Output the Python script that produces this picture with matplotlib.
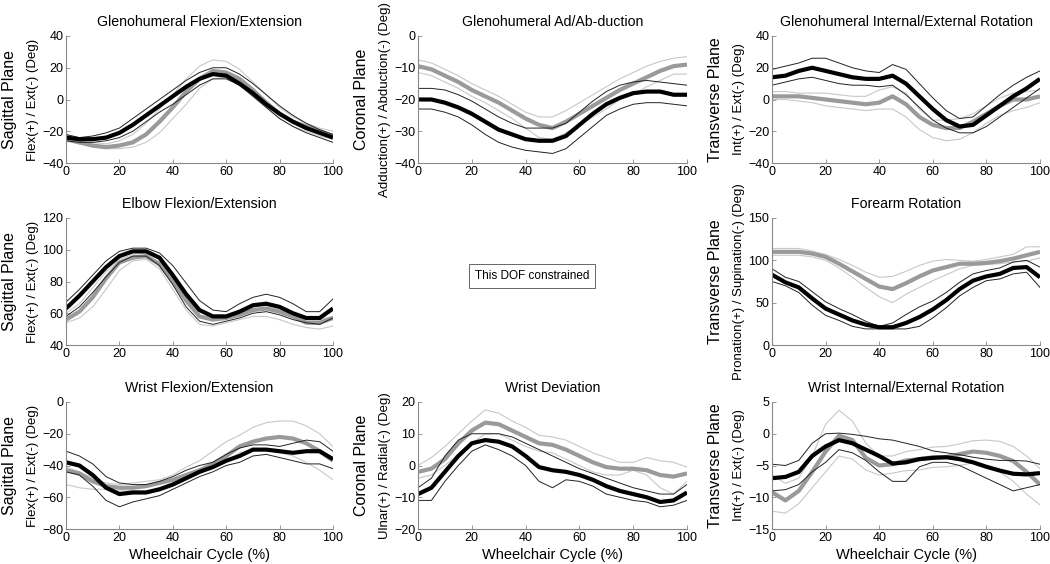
import matplotlib
matplotlib.use("Agg")
import matplotlib.pyplot as plt

plt.rcParams['font.family'] = ['Liberation Sans', 'DejaVu Sans']

# wheelchair cycle sampled every 5 %
cycle = list(range(0, 101, 5))

# Glenohumeral flexion / extension
ghfe_black = [-24, -25, -25, -24, -21, -16, -10, -4, 2, 8, 13, 16, 15, 10, 4, -3, -9, -14, -18, -21, -24]
ghfe_black_hi = [-22, -24, -23, -21, -18, -12, -6, 0, 6, 12, 17, 20, 20, 16, 10, 3, -4, -10, -15, -19, -22]
ghfe_black_lo = [-26, -27, -27, -26, -24, -20, -14, -8, -3, 3, 9, 13, 13, 9, 2, -5, -12, -17, -21, -24, -27]
ghfe_grey = [-25, -27, -29, -30, -29, -27, -22, -14, -5, 5, 13, 18, 17, 13, 6, -2, -9, -14, -17, -20, -23]
ghfe_grey_hi = [-22, -26, -27, -28, -26, -22, -15, -6, 3, 13, 21, 25, 24, 19, 11, 3, -5, -11, -15, -18, -20]
ghfe_grey_lo = [-26, -28, -30, -31, -31, -30, -27, -21, -12, -3, 7, 13, 14, 10, 3, -5, -12, -17, -20, -23, -25]

# Glenohumeral ad / abduction
ghaa_black = [-20, -20, -21, -22.5, -24.5, -27, -29.5, -31, -32.5, -33, -33, -31.5, -28, -24.5, -21.5, -19.5, -18, -17.5, -17.5, -18.5, -18.5]
ghaa_black_hi = [-16.5, -16.5, -17, -18.5, -20.5, -23, -25.5, -27.5, -29, -29, -29, -27.5, -24, -20.5, -17.5, -15.5, -14.5, -14, -14.5, -15, -15.5]
ghaa_black_lo = [-23, -23, -24, -25.5, -28, -31, -33.5, -35, -36, -36.5, -37, -35.5, -32, -28.5, -25, -23, -21.5, -21, -21, -21.5, -22]
ghaa_grey = [-9.5, -10.5, -12.5, -14.5, -17, -19, -21, -23.5, -26, -28, -29, -27, -24.5, -22, -19.5, -17, -15, -13, -11, -9.5, -9]
ghaa_grey_hi = [-7.5, -8.5, -10.5, -12.5, -15, -17, -19, -21.5, -24, -25.5, -25.5, -23.5, -21, -18.5, -16, -13.5, -11.5, -9.5, -8, -7, -6.5]
ghaa_grey_lo = [-11.5, -12.5, -14.5, -16.5, -19, -21, -23.5, -26, -29, -32, -32.5, -30.5, -28, -25.5, -23, -20, -18.5, -16, -14, -12, -12]

# Glenohumeral internal / external rotation
ghie_black = [14, 15, 18, 20, 18, 16, 14, 13, 13, 15, 10, 2, -6, -13, -17, -16, -10, -4, 2, 7, 13]
ghie_black_hi = [19, 21, 23, 26, 26, 23, 20, 18, 17, 22, 19, 10, 1, -7, -12, -11, -4, 3, 9, 14, 18]
ghie_black_lo = [9, 11, 13, 14, 12, 10, 9, 9, 8, 9, 3, -5, -13, -18, -21, -21, -17, -11, -5, 1, 7]
ghie_grey = [2, 2, 2, 1, 0, -1, -2, -3, -2, 2, -3, -11, -16, -18, -18, -14, -9, -4, 0, 0, 2]
ghie_grey_hi = [5, 5, 4, 4, 4, 3, 2, 2, 6, 8, 4, -6, -13, -13, -12, -9, -4, 1, 4, 5, 6]
ghie_grey_lo = [0, 0, -1, -2, -4, -5, -6, -7, -6, -6, -11, -19, -24, -26, -25, -21, -15, -10, -7, -5, -2]

# Elbow flexion / extension
elb_black = [63, 71, 80, 89, 96, 99, 99, 95, 84, 72, 62, 58, 58, 61, 65, 66, 64, 60, 57, 57, 63]
elb_black_hi = [67, 75, 84, 93, 99, 101, 101, 98, 90, 79, 68, 62, 61, 66, 70, 72, 70, 66, 61, 61, 69]
elb_black_lo = [58, 64, 73, 83, 92, 96, 96, 90, 78, 64, 55, 53, 55, 57, 60, 61, 59, 56, 54, 53, 57]
elb_grey = [56, 61, 70, 82, 92, 95, 96, 91, 80, 68, 58, 56, 57, 59, 62, 63, 61, 58, 54, 54, 57]
elb_grey_hi = [60, 66, 76, 86, 94, 97, 98, 95, 85, 73, 62, 59, 59, 62, 66, 67, 64, 60, 56, 56, 58]
elb_grey_lo = [54, 57, 64, 75, 87, 93, 94, 88, 75, 62, 53, 52, 54, 56, 58, 58, 56, 53, 51, 50, 52]

# Forearm rotation
fa_black = [83, 74, 68, 55, 43, 36, 29, 24, 21, 21, 26, 33, 42, 53, 66, 76, 81, 84, 91, 92, 80]
fa_black_hi = [90, 80, 75, 63, 51, 43, 36, 28, 22, 26, 36, 45, 52, 62, 74, 84, 88, 91, 98, 100, 92]
fa_black_lo = [75, 70, 62, 47, 35, 29, 22, 19, 19, 19, 19, 22, 32, 44, 58, 68, 76, 78, 84, 86, 68]
fa_grey = [110, 110, 110, 108, 104, 96, 87, 78, 69, 66, 73, 81, 88, 92, 96, 96, 97, 99, 102, 106, 110]
fa_grey_hi = [114, 114, 114, 111, 107, 101, 94, 86, 80, 81, 87, 94, 99, 101, 100, 99, 101, 104, 107, 116, 116]
fa_grey_lo = [106, 106, 106, 104, 100, 91, 80, 68, 57, 50, 60, 68, 76, 83, 90, 94, 95, 96, 98, 99, 103]

# Wrist flexion / extension
wfe_black = [-38, -40, -46, -54, -58, -57, -57, -55, -52, -48, -44, -41, -37, -34, -30, -30, -31, -32, -31, -31, -36]
wfe_black_hi = [-31, -34, -39, -47, -51, -52, -52, -50, -47, -43, -40, -38, -33, -29, -27, -27, -28, -26, -24, -25, -31]
wfe_black_lo = [-44, -46, -53, -62, -66, -63, -61, -59, -55, -51, -47, -44, -40, -38, -34, -33, -35, -37, -39, -39, -42]
wfe_grey = [-43, -45, -50, -53, -54, -54, -53, -51, -49, -46, -43, -39, -34, -28, -25, -23, -22, -23, -26, -31, -37]
wfe_grey_hi = [-41, -44, -48, -51, -52, -51, -50, -49, -46, -41, -37, -31, -25, -21, -16, -13, -12, -12, -15, -20, -28]
wfe_grey_lo = [-52, -54, -55, -55, -56, -56, -56, -54, -52, -49, -45, -41, -37, -32, -30, -30, -32, -34, -38, -43, -49]

# Wrist deviation
wd_black = [-9, -7, -2, 3, 7, 8, 7.5, 6, 3, -0.5, -1.5, -2, -3, -4.5, -6.5, -8, -9, -10, -11.5, -11, -8.5]
wd_black_hi = [-7, -4, 3, 8, 10, 10, 10, 9, 7, 5, 3, 1, -1, -2.5, -4, -5.5, -7, -8, -9, -9, -6]
wd_black_lo = [-11, -11, -5, 0, 4.5, 6.5, 5, 3, 0, -5, -7, -4.5, -5, -6.5, -9, -10, -11, -11.5, -13, -12.5, -11]
wd_grey = [-2, -1, 2, 7, 11, 13.5, 13, 11, 9, 7, 6.5, 5, 3, 1, -0.5, -1, -1, -1.5, -3, -3.5, -2.5]
wd_grey_hi = [0, 2.5, 6, 10, 14, 17.5, 16.5, 14, 12, 9.5, 9, 8, 6, 4, 2.5, 1, 1, 2.5, 1.5, 1, -0.5]
wd_grey_lo = [-4, -3, 0, 3.5, 7, 10, 10, 8, 6, 4.5, 4, 2, 0, -2, -3, -3, -1.5, -3, -7, -9, -5]

# Wrist internal / external rotation
wie_black = [-7, -6.8, -6, -3.5, -2, -1, -1.5, -2.5, -3.5, -4.7, -4.5, -4, -3.8, -3.7, -4, -4.5, -5.2, -5.8, -6.3, -6.4, -6.2]
wie_black_hi = [-4.8, -5, -4.2, -1.5, 0, 0.1, -0.1, -0.4, -0.8, -1, -1.5, -2, -2.7, -3, -3.3, -3.7, -4, -4.2, -4.2, -4.3, -4.8]
wie_black_lo = [-9, -8.8, -8, -6, -4.5, -2.5, -3, -4.2, -6, -7.5, -7.5, -5.2, -4.5, -4.5, -5, -6, -7, -8, -9, -8.5, -8]
wie_grey = [-9.2, -10.5, -9, -6, -2.8, -0.3, -1, -3.8, -5, -4.8, -4.2, -4, -3.7, -3.7, -3.2, -2.8, -3, -3.5, -4.3, -6, -8]
wie_grey_hi = [-6.5, -7.8, -7, -3.5, 1.5, 3.7, 2, -1.5, -3.5, -3.5, -2.8, -2.5, -2.1, -2, -1.6, -1.1, -1, -1.2, -2, -3.5, -5.5]
wie_grey_lo = [-12.2, -12.5, -11, -8.5, -6, -3.5, -4, -5.7, -6.5, -6.2, -5.8, -5.7, -5.3, -5.2, -5, -4.6, -5, -6, -7.5, -9.5, -11.2]

COL_LEFT = [66, 418, 772]
COL_WIDTH = [267, 269, 268]
ROW_TOP = [36, 218, 402]
ROW_HEIGHT = 127
W, H = 1050, 564


def make_axes(fig, row, col):
    """ creates an axes at the pixel position of the reference panel """
    left = COL_LEFT[col] / W
    bottom = 1 - (ROW_TOP[row] + ROW_HEIGHT) / H
    return fig.add_axes([left, bottom, COL_WIDTH[col] / W, ROW_HEIGHT / H])


def draw_panel(ax, title, plane, unit, ylim, yticks, curves, xlabel=False):
    """ draws one joint angle panel with two groups (black, grey) """
    black, black_hi, black_lo, grey, grey_hi, grey_lo = curves
    ax.plot(cycle, grey_hi, color="#c8c8c8", lw=0.8)
    ax.plot(cycle, grey_lo, color="#c8c8c8", lw=0.8)
    ax.plot(cycle, grey, color="#9a9a9a", lw=3.0, solid_capstyle="butt")
    ax.plot(cycle, black_hi, color="#222222", lw=0.7)
    ax.plot(cycle, black_lo, color="#222222", lw=0.7)
    ax.plot(cycle, black, color="black", lw=3.0, solid_capstyle="butt")

    ax.set_xlim(0, 100)
    ax.set_ylim(*ylim)
    ax.set_xticks(range(0, 101, 20))
    ax.set_yticks(yticks)
    ax.set_title(title, fontsize=10.2, pad=7)
    for side in ["top", "right"]:
        ax.spines[side].set_visible(False)
    for side in ["left", "bottom"]:
        ax.spines[side].set_color("#888888")
        ax.spines[side].set_linewidth(0.8)
    ax.tick_params(direction="in", length=3, width=0.6, color="#888888",
                   labelsize=9, pad=2)

    # two line y label: plane name, then sign convention
    ax.text(-56 / ax.bbox.width, 0.5, plane, transform=ax.transAxes,
            rotation=90, ha="center", va="center", fontsize=11.5)
    ax.text(-33 / ax.bbox.width, 0.5, unit, transform=ax.transAxes,
            rotation=90, ha="center", va="center", fontsize=9.5)
    if xlabel:
        ax.set_xlabel("Wheelchair Cycle (%)", fontsize=10.5, labelpad=3)


fig = plt.figure(figsize=(10.5, 5.64), dpi=100)

ax = make_axes(fig, 0, 0)
draw_panel(ax, "Glenohumeral Flexion/Extension", "Sagittal Plane", "Flex(+) / Ext(-) (Deg)",
           (-40, 40), range(-40, 41, 20),
           [ghfe_black, ghfe_black_hi, ghfe_black_lo, ghfe_grey, ghfe_grey_hi, ghfe_grey_lo])

ax = make_axes(fig, 0, 1)
draw_panel(ax, "Glenohumeral Ad/Ab-duction", "Coronal Plane", "Adduction(+) / Abduction(-) (Deg)",
           (-40, 0), range(-40, 1, 10),
           [ghaa_black, ghaa_black_hi, ghaa_black_lo, ghaa_grey, ghaa_grey_hi, ghaa_grey_lo])

ax = make_axes(fig, 0, 2)
draw_panel(ax, "Glenohumeral Internal/External Rotation", "Transverse Plane", "Int(+) / Ext(-) (Deg)",
           (-40, 40), range(-40, 41, 20),
           [ghie_black, ghie_black_hi, ghie_black_lo, ghie_grey, ghie_grey_hi, ghie_grey_lo])

ax = make_axes(fig, 1, 0)
draw_panel(ax, "Elbow Flexion/Extension", "Sagittal Plane", "Flex(+) / Ext(-) (Deg)",
           (40, 120), range(40, 121, 20),
           [elb_black, elb_black_hi, elb_black_lo, elb_grey, elb_grey_hi, elb_grey_lo])

fig.text(532 / W, 1 - 276 / H, "This DOF constrained", ha="center", va="center", fontsize=8.5,
         bbox=dict(boxstyle="square,pad=0.5", facecolor="white", edgecolor="#666666", linewidth=0.7))

ax = make_axes(fig, 1, 2)
draw_panel(ax, "Forearm Rotation", "Transverse Plane", "Pronation(+) / Supination(-) (Deg)",
           (0, 150), range(0, 151, 50),
           [fa_black, fa_black_hi, fa_black_lo, fa_grey, fa_grey_hi, fa_grey_lo])

ax = make_axes(fig, 2, 0)
draw_panel(ax, "Wrist Flexion/Extension", "Sagittal Plane", "Flex(+) / Ext(-) (Deg)",
           (-80, 0), range(-80, 1, 20),
           [wfe_black, wfe_black_hi, wfe_black_lo, wfe_grey, wfe_grey_hi, wfe_grey_lo], xlabel=True)

ax = make_axes(fig, 2, 1)
draw_panel(ax, "Wrist Deviation", "Coronal Plane", "Ulnar(+) / Radial(-) (Deg)",
           (-20, 20), range(-20, 21, 10),
           [wd_black, wd_black_hi, wd_black_lo, wd_grey, wd_grey_hi, wd_grey_lo], xlabel=True)

ax = make_axes(fig, 2, 2)
draw_panel(ax, "Wrist Internal/External Rotation", "Transverse Plane", "Int(+) / Ext(-) (Deg)",
           (-15, 5), range(-15, 6, 5),
           [wie_black, wie_black_hi, wie_black_lo, wie_grey, wie_grey_hi, wie_grey_lo], xlabel=True)

fig.savefig("out.png", dpi=100)
